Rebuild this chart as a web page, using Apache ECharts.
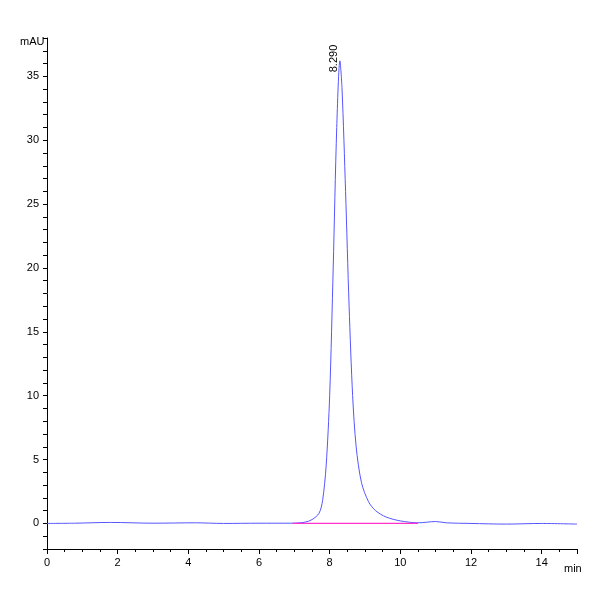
<!DOCTYPE html>
<html>
<head>
<meta charset="UTF-8">
<script src="https://cdn.jsdelivr.net/npm/echarts@6/dist/echarts.min.js"></script>
</head>
<body style="margin:0">
<div id="main" style="width:600px;height:600px;"></div>
<script>
// retention time (min) and signal (mAU)
var times = [0, 0.8, 1.8, 3, 4.2, 5, 6, 6.9, 7.3, 7.5, 7.7, 7.8, 7.9, 8.0, 8.1, 8.2, 8.29, 8.35, 8.45, 8.55, 8.65, 8.75, 8.9, 9.1, 9.3, 9.6, 10.0, 10.5, 11.0, 11.3, 12, 13, 14, 15];
var signal = [0, 0.02, 0.08, 0.02, 0.05, 0, 0.02, 0.02, 0.1, 0.3, 0.8, 1.8, 4.5, 10, 20, 31, 36.2, 34, 26, 17, 10, 6, 3.2, 1.7, 1.0, 0.5, 0.2, 0.05, 0.15, 0.05, 0, -0.05, 0, -0.05];
var baseX = [6.95, 10.5];
var baseY = [0, 0];
var peakLabel = '8.290';

var trace = times.map(function (t, i) { return [t, signal[i]]; });
var base = baseX.map(function (t, i) { return [t, baseY[i]]; });

var chart = echarts.init(document.getElementById('main'));
chart.setOption({
    animation: false,
    grid: { left: 47, right: 23, top: 38, bottom: 51 },
    xAxis: {
        type: 'value', min: 0, max: 15, interval: 2,
        axisLine: { onZero: false, lineStyle: { color: '#000' } },
        axisTick: { lineStyle: { color: '#000' } },
        minorTick: { show: true, splitNumber: 4, lineStyle: { color: '#000' } },
        axisLabel: {
            color: '#000', fontFamily: 'Liberation Sans', fontSize: 11,
            formatter: function (v) { return v % 2 === 0 ? v : ''; }
        },
        splitLine: { show: false }
    },
    yAxis: {
        type: 'value', min: -2, max: 38, interval: 1,
        axisLine: { show: true, lineStyle: { color: '#000' } },
        axisTick: { show: true, length: 4, lineStyle: { color: '#000' } },
        axisLabel: {
            color: '#000', fontFamily: 'Liberation Sans', fontSize: 11,
            formatter: function (v) { return v % 5 === 0 && v >= 0 ? v : ''; }
        },
        splitLine: { show: false }
    },
    graphic: [
        { type: 'text', left: 20, top: 36, style: { text: 'mAU', fill: '#000', font: '11px Liberation Sans' } },
        { type: 'text', left: 564, top: 563, style: { text: 'min', fill: '#000', font: '11px Liberation Sans' } }
    ],
    series: [
        {
            type: 'line', data: trace, smooth: 0.3, showSymbol: false,
            lineStyle: { color: '#5555ff', width: 1 },
            markPoint: {
                symbol: 'circle', symbolSize: 1,
                data: [{ coord: [8.29, 36.2] }],
                label: { show: true, formatter: peakLabel, rotate: 90, position: 'top', distance: 2, color: '#000', fontSize: 11, fontFamily: 'Liberation Sans' }
            }
        },
        {
            type: 'line', data: base, showSymbol: false, z: 5,
            lineStyle: { color: '#ff33cc', width: 1.2 }
        }
    ]
});
</script>
</body>
</html>
